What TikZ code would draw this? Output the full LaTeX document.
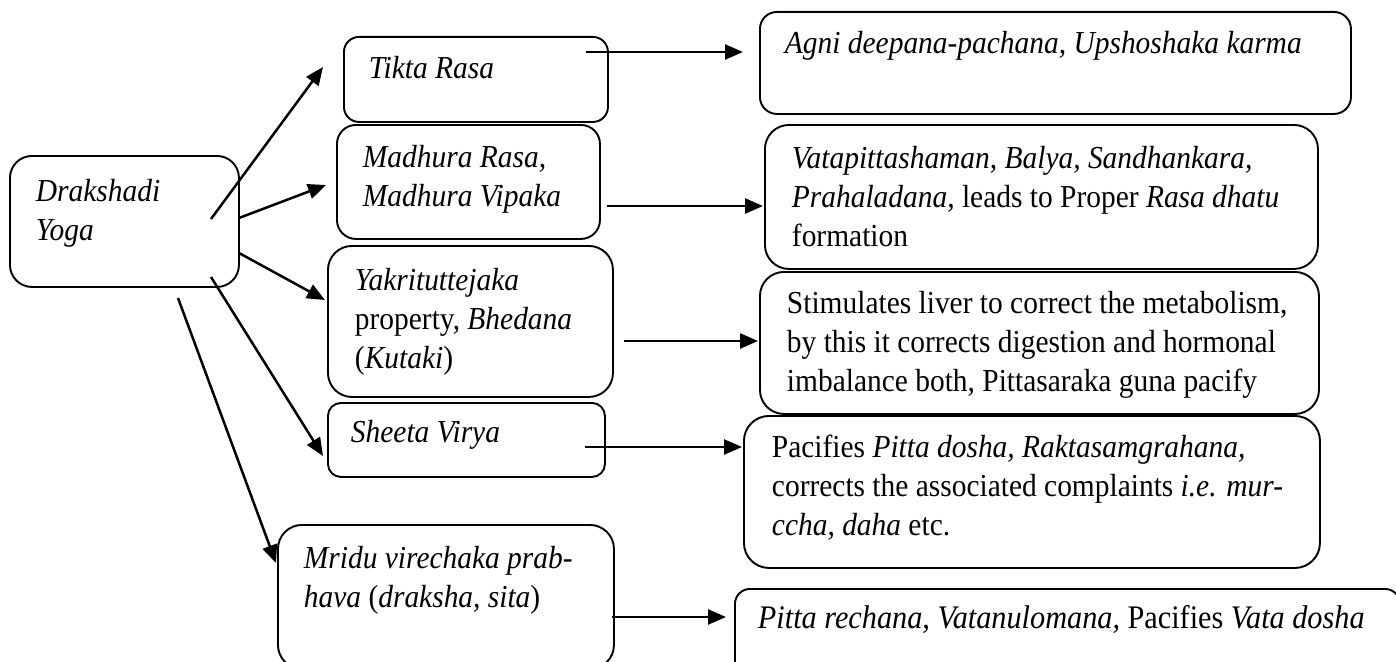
\documentclass[tikz,border=0pt]{standalone}
\usepackage{fontspec}
\setmainfont{Liberation Serif}[FakeStretch=0.92]
\usetikzlibrary{arrows.meta}
\newcommand{\bxt}[5]{\parbox[t][#2pt][t]{#1pt}{\raggedright\leftskip=#3pt\relax\fontsize{32}{39}\selectfont\vspace*{#4pt}\strut #5}}
\begin{document}
\begin{tikzpicture}[x=1pt,y=-1pt,
  bx/.style={draw, line width=1.9pt, inner sep=0pt, anchor=north west, rounded corners=#1},
  arr/.style={line width=2.5pt, -{Triangle[length=18pt,width=15pt]}}]
\useasboundingbox (0,0) rectangle (1396,661);
\clip (0,0) rectangle (1396,661);
% left column
\node[bx=22pt] (dy) at (9,155) {\bxt{229}{131}{26}{18.7}{\textit{Drakshadi}\\\textit{Yoga}}};
\node[bx=15pt] (tk) at (343,36) {\bxt{264}{85}{25}{14.7}{\textit{Tikta Rasa}}};
\node[bx=19pt] (md) at (336,124) {\bxt{263}{114}{26}{15.7}{\textit{Madhura Rasa,}\\\textit{Madhura Vipaka}}};
\node[bx=24pt] (yk) at (327,245) {\bxt{285}{151}{27}{17.7}{\textit{Yakrituttejaka}\\property, \textit{Bhedana}\\(\textit{Kutaki})}};
\node[bx=13pt] (sv) at (327,402) {\bxt{277}{74}{23}{12.7}{\textit{Sheeta Virya}}};
\node[bx=24pt] (mv) at (277,524) {\bxt{336}{144}{26}{16.7}{\textit{Mridu virechaka prab-}\\\textit{hava} (\textit{draksha, sita})}};
% right column
\node[bx=17pt] (ag) at (759,11) {\bxt{591}{102}{25}{14.7}{\textit{Agni deepana-pachana, Upshoshaka karma}}};
\node[bx=24pt] (vt) at (764,124) {\bxt{553}{144}{27}{16.7}{\textit{Vatapittashaman, Balya, Sandhankara,}\\\textit{Prahaladana,} leads to Proper \textit{Rasa dhatu}\\formation}};
\node[bx=24pt] (st) at (759,271) {\bxt{559}{142}{27}{14.7}{Stimulates liver to correct the metabolism,\\by this it corrects digestion and hormonal\\imbalance both, Pittasaraka guna pacify}};
\node[bx=25pt] (pc) at (743,415) {\bxt{576}{152}{28}{14.7}{Pacifies \textit{Pitta dosha, Raktasamgrahana,}\\corrects the associated complaints \textit{i.e. mur-}\\\textit{ccha, daha} etc.}};
\node[bx=15pt] (pr) at (734,588) {\bxt{665}{88}{23}{12.7}{\fontsize{32.9}{39}\selectfont\textit{Pitta rechana, Vatanulomana,} Pacifies \textit{Vata dosha}}};
% connector ends
\coordinate (s1) at (211,219); \coordinate (e1) at (323,67);
\coordinate (s2) at (239,218); \coordinate (e2) at (326,185);
\coordinate (s3) at (239,253); \coordinate (e3) at (325,300);
\coordinate (s4) at (211,277); \coordinate (e4) at (323,456);
\coordinate (s5) at (178,298); \coordinate (e5) at (276,563);
\coordinate (t1) at (586,52);  \coordinate (f1) at (743,52);
\coordinate (t2) at (607,206); \coordinate (f2) at (763,206);
\coordinate (t3) at (624,341); \coordinate (f3) at (758,341);
\coordinate (t4) at (585,447); \coordinate (f4) at (742,447);
\coordinate (t5) at (612,617); \coordinate (f5) at (726,617);
\draw[arr] (s1) -- (e1);
\draw[arr] (s2) -- (e2);
\draw[arr] (s3) -- (e3);
\draw[arr] (s4) -- (e4);
\draw[arr] (s5) -- (e5);
\draw[arr] (t1) -- (f1);
\draw[arr] (t2) -- (f2);
\draw[arr] (t3) -- (f3);
\draw[arr] (t4) -- (f4);
\draw[arr] (t5) -- (f5);
\end{tikzpicture}
\end{document}
